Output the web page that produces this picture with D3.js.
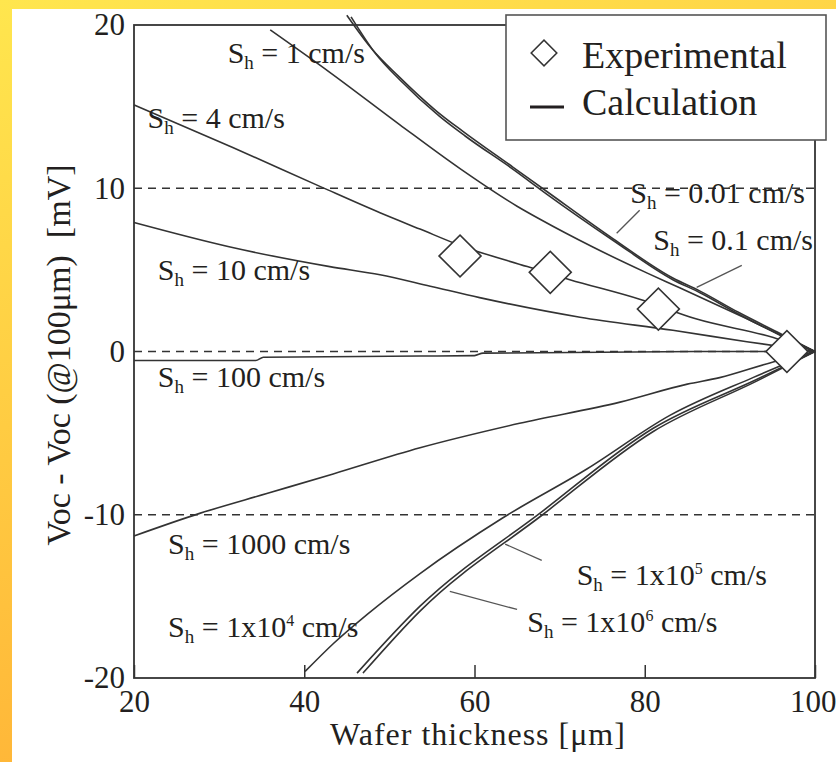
<!DOCTYPE html>
<html>
<head>
<meta charset="utf-8">
<script src="https://cdn.jsdelivr.net/npm/d3@7"></script>
</head>
<body style="margin:0">
<svg id="chart" width="836" height="762"></svg>
<script>

// Axis ticks
const xTicks = [20, 40, 60, 80, 100];
const yTicks = [-20, -10, 0, 10, 20];
const gridLevels = [-10, 0, 10];

// Calculation curves, [thickness um, dVoc mV]
const sh001 = [[45, 20.6], [48, 18.5], [51, 16.9], [55.6, 14.7], [58.6, 13.5], [64.5, 11.3], [68.5, 9.8],
	[76.3, 6.9], [83.3, 4.5], [86.5, 3.7], [91, 2.4], [95.9, 1.1], [100, 0]];
const sh01 = [[45.5, 20.5], [48.3, 18.3], [51.3, 16.6], [55.9, 14.4], [58.9, 13.2], [64.7, 11.1], [68.6, 9.6],
	[76.3, 6.8], [83.3, 4.4], [86.5, 3.6], [91, 2.3], [95.9, 1.0], [100, 0]];
const sh1 = [[36, 19.7], [43, 17.1], [51.2, 13.9], [58.3, 11.2], [65, 8.9], [67.7, 8.1], [73.9, 6.4],
	[80.3, 4.8], [84.1, 3.9], [92, 2.0], [100, 0]];
const sh4 = [[20, 15.1], [31.6, 12.5], [41.9, 10.1], [48.9, 8.5], [53.6, 7.5], [58.3, 6.5], [66.2, 5.2],
	[71.2, 4.4], [79.4, 3.2], [86, 2.0], [95.1, 0.86], [100, 0]];
const sh10 = [[20, 7.9], [31.3, 6.4], [43, 5.2], [48.9, 4.7], [54.8, 4.0], [60.6, 3.3], [72.4, 2.1],
	[83.3, 1.3], [92, 0.6], [100, 0]];
const sh100 = [[20, -0.55], [34.3, -0.55], [35.2, -0.35], [53.6, -0.28], [60, -0.25], [61, -0.1],
	[86, 0], [100, 0]];
const sh1000 = [[20, -11.3], [27.8, -9.9], [35.6, -8.7], [43.4, -7.5], [53.6, -5.9], [65.3, -4.4],
	[77.1, -3.1], [85, -2.0], [88.8, -1.6], [94.7, -0.7], [100, 0]];
const sh1e4 = [[40.1, -19.6], [43.4, -17.9], [47.4, -16.1], [53.6, -13.6], [63.3, -10.2], [73.2, -7.2],
	[83, -3.9], [92.7, -1.6], [100, 0]];
const sh1e5 = [[46.2, -19.7], [53.6, -15.6], [67.7, -9.9], [81, -4.7], [93.2, -1.7], [100, 0]];
const sh1e6 = [[46.9, -19.7], [53.6, -15.9], [68, -10.0], [81, -4.9], [93.2, -1.8], [100, 0]];

const curves = [sh001, sh01, sh1, sh4, sh10, sh100, sh1000, sh1e4, sh1e5, sh1e6];

// Experimental points
const expX = [58.3, 68.9, 81.6, 96.7];
const expY = [5.85, 4.85, 2.6, 0];

// Curve labels: value, superscript
const labelValues = ["1", "4", "10", "100", "1000", "1x10", "0.01", "0.1", "1x10", "1x10"];
const labelSups = [null, null, null, null, null, "4", null, null, "5", "6"];

// where the labels sit (data units)
const labelSpots = [[31.0, 17.7], [21.6, 13.7], [22.8, 4.36], [22.8, -2.2], [24.0, -12.4], [24.0, -17.5],
	[78.3, 9.1], [81.0, 6.2], [72.0, -14.3], [66.2, -17.2]];
// leader lines (data units)
const leaders = [[[76.7, 7.24], [79.4, 8.65]], [[86.1, 3.93], [91.4, 5.28]],
	[[63.6, -11.8], [67.9, -12.8]], [[57.1, -14.7], [65.0, -15.8]]];

const width = 836, height = 762;
const plot = {left: 134, right: 815, top: 25, bottom: 678};
const ink = "#333";
const textInk = "#231f20";
const serif = "'Liberation Serif'";

const svg = d3.select("#chart");

// Yellow frame
const defs = svg.append("defs");
const grad = defs.append("linearGradient")
	.attr("id", "frame-grad")
	.attr("x1", "0").attr("y1", "0")
	.attr("x2", "0.35").attr("y2", "1");
grad.append("stop").attr("offset", "0%").attr("stop-color", "#ffe64e");
grad.append("stop").attr("offset", "100%").attr("stop-color", "#ffb236");

svg.append("rect")
	.attr("width", width).attr("height", height)
	.attr("fill", "url(#frame-grad)");
svg.append("rect")
	.attr("x", 12).attr("y", 9)
	.attr("width", width - 12).attr("height", height - 9)
	.attr("fill", "#fff");

// Scales
const x = d3.scaleLinear().domain([20, 100]).range([plot.left, plot.right]);
const y = d3.scaleLinear().domain([-20, 20]).range([plot.bottom, plot.top]);

// Dashed reference lines
svg.append("g")
	.selectAll("line")
	.data(gridLevels)
	.enter()
	.append("line")
		.attr("x1", x(20)).attr("x2", x(100))
		.attr("y1", d => y(d)).attr("y2", d => y(d))
		.attr("stroke", ink)
		.attr("stroke-width", 1.4)
		.attr("stroke-dasharray", "8,6");

// X axis, ticks pointing in
const xAxis = d3.axisBottom(x)
	.tickValues(xTicks)
	.tickFormat(d => String(d))
	.tickSizeInner(-13)
	.tickSizeOuter(0)
	.tickPadding(12);

const gx = svg.append("g")
	.attr("transform", "translate(0," + plot.bottom + ")")
	.call(xAxis);
gx.attr("font-family", null).attr("font-size", null);
gx.select(".domain").remove();
gx.selectAll("line").attr("stroke", ink).attr("stroke-width", 1.5);
gx.selectAll("text")
	.style("font-family", serif)
	.style("font-size", "31px")
	.attr("fill", textInk);
// last label sits on the page edge
gx.selectAll(".tick:last-of-type text")
	.attr("text-anchor", "end")
	.attr("x", 836 - plot.right);

// Y axis, no tick marks
const yAxis = d3.axisLeft(y)
	.tickValues(yTicks)
	.tickFormat(d => String(d))
	.tickSize(0)
	.tickPadding(9);

const gy = svg.append("g")
	.attr("transform", "translate(" + plot.left + ",0)")
	.call(yAxis);
gy.attr("font-family", null).attr("font-size", null);
gy.select(".domain").remove();
gy.selectAll("text")
	.style("font-family", serif)
	.style("font-size", "31px")
	.attr("fill", textInk);

// Plot frame
svg.append("rect")
	.attr("x", plot.left).attr("y", plot.top)
	.attr("width", plot.right - plot.left)
	.attr("height", plot.bottom - plot.top)
	.attr("fill", "none")
	.attr("stroke", ink)
	.attr("stroke-width", 1.8);

// Calculation curves
const line = d3.line()
	.x(d => x(d[0]))
	.y(d => y(d[1]))
	.curve(d3.curveMonotoneX);

svg.append("g")
	.selectAll("path")
	.data(curves)
	.enter()
	.append("path")
		.attr("d", line)
		.attr("fill", "none")
		.attr("stroke", ink)
		.attr("stroke-width", 1.6);

// Leader lines
svg.append("g")
	.selectAll("line")
	.data(leaders)
	.enter()
	.append("line")
		.attr("x1", d => x(d[0][0])).attr("y1", d => y(d[0][1]))
		.attr("x2", d => x(d[1][0])).attr("y2", d => y(d[1][1]))
		.attr("stroke", "#555")
		.attr("stroke-width", 1.3);

// Curve labels
const labelG = svg.append("g");
labelValues.forEach((v, i) => {
	const t = labelG.append("text")
		.style("font-family", serif)
		.style("font-size", "30px")
		.attr("fill", textInk)
		.attr("x", x(labelSpots[i][0]))
		.attr("y", y(labelSpots[i][1]));
	t.append("tspan").text("S");
	t.append("tspan").style("font-size", "19px").attr("dy", 6).text("h");
	if (labelSups[i]) {
		t.append("tspan").attr("dy", -6).text(" = " + v);
		t.append("tspan").style("font-size", "16px").attr("dy", -11).text(labelSups[i]);
		t.append("tspan").attr("dy", 11).text(" cm/s");
	} else {
		t.append("tspan").attr("dy", -6).text(" = " + v + " cm/s");
	}
});

// Experimental diamonds
const diamond = d3.symbol().type(d3.symbolSquare).size(880);
svg.append("g")
	.selectAll("path")
	.data(expX)
	.enter()
	.append("path")
		.attr("d", diamond)
		.attr("transform", (d, i) => "translate(" + x(d) + "," + y(expY[i]) + ") rotate(45)")
		.attr("fill", "#fff")
		.attr("stroke", ink)
		.attr("stroke-width", 1.6);

// Axis titles
svg.append("text")
	.style("font-family", serif)
	.style("font-size", "32px")
	.attr("fill", textInk)
	.attr("x", 478)
	.attr("y", 745)
	.attr("text-anchor", "middle")
	.attr("letter-spacing", 1)
	.text("Wafer thickness [\u03bcm]");

svg.append("text")
	.style("font-family", serif)
	.style("font-size", "34px")
	.attr("fill", textInk)
	.attr("transform", "translate(70,355) rotate(-90)")
	.attr("text-anchor", "middle")
	.text("Voc - Voc (@100\u03bcm)\u00a0\u00a0[mV]");

// Legend
const legend = svg.append("g");
legend.append("rect")
	.attr("x", 506).attr("y", 15)
	.attr("width", 320).attr("height", 125)
	.attr("fill", "#fff")
	.attr("stroke", "#555")
	.attr("stroke-width", 1.6);
legend.append("path")
	.attr("d", d3.symbol().type(d3.symbolSquare).size(330))
	.attr("transform", "translate(544,53) rotate(45)")
	.attr("fill", "#fff")
	.attr("stroke", ink)
	.attr("stroke-width", 1.5);
legend.append("line")
	.attr("x1", 530).attr("x2", 564)
	.attr("y1", 107).attr("y2", 107)
	.attr("stroke", textInk)
	.attr("stroke-width", 3);
legend.append("text")
	.style("font-family", serif)
	.style("font-size", "38px")
	.attr("fill", textInk)
	.attr("x", 582).attr("y", 68)
	.text("Experimental");
legend.append("text")
	.style("font-family", serif)
	.style("font-size", "38px")
	.attr("fill", textInk)
	.attr("x", 582).attr("y", 115)
	.text("Calculation");

</script>
</body>
</html>
